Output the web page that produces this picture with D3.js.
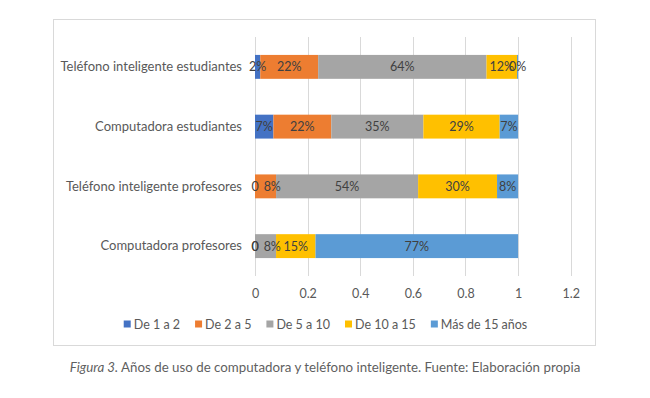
<!DOCTYPE html>
<html>
<head>
<meta charset="utf-8">
<script src="https://cdn.jsdelivr.net/npm/d3@7"></script>
<style>
  html, body { margin: 0; padding: 0; background: #fff; }
  svg { display: block; }
</style>
</head>
<body>
<svg id="chart" width="650" height="398"></svg>
<script>
// ---- data ----
const categories = [
  "Teléfono inteligente estudiantes",
  "Computadora estudiantes",
  "Teléfono inteligente profesores",
  "Computadora profesores"
];
const seriesNames = ["De 1 a 2", "De 2 a 5", "De 5 a 10", "De 10 a 15", "Más de 15 años"];
const de1a2    = [0.02, 0.07, 0,    0];
const de2a5    = [0.22, 0.22, 0.08, 0];
const de5a10   = [0.64, 0.35, 0.54, 0.08];
const de10a15  = [0.116, 0.29, 0.30, 0.15];
const mas15    = [0.004, 0.07, 0.08, 0.77];
const xTicks   = [0, 0.2, 0.4, 0.6, 0.8, 1, 1.2];
const colors   = ["#4472C4", "#ED7D31", "#A5A5A5", "#FFC000", "#5B9BD5"];
const caption  = { italic: "Figura 3.", rest: " Años de uso de computadora y teléfono inteligente. Fuente: Elaboración propia" };

const seriesValues = [de1a2, de2a5, de5a10, de10a15, mas15];
const rows = categories.map((c, i) => {
  const r = { cat: c };
  seriesNames.forEach((s, j) => r[s] = seriesValues[j][i]);
  return r;
});

const svg = d3.select("#chart");
const font = "Lato, 'Open Sans', sans-serif";

// chart frame
svg.append("rect").attr("x", 53.5).attr("y", 19.5).attr("width", 542).attr("height", 326)
  .attr("fill", "#fff").attr("stroke", "#D9D9D9").attr("stroke-width", 1);

const plot = { left: 255, right: 570.7, top: 37, bottom: 276 };
const x = d3.scaleLinear().domain([0, 1.2]).range([plot.left, plot.right]);
const y = d3.scaleBand().domain(categories).range([plot.top, plot.bottom]).paddingInner(0.6).paddingOuter(0.3);

// gridlines
svg.append("g").selectAll("line").data(xTicks).join("line")
  .attr("x1", d => Math.round(x(d)) + 0.5).attr("x2", d => Math.round(x(d)) + 0.5)
  .attr("y1", plot.top).attr("y2", plot.bottom)
  .attr("stroke", "#D9D9D9").attr("stroke-width", 1);

// x axis tick labels
const xAxis = d3.axisBottom(x).tickValues(xTicks).tickSize(0).tickPadding(0)
  .tickFormat(d => d3.format("")(d));
const gx = svg.append("g").attr("transform", `translate(0,${plot.bottom + 17})`).call(xAxis);
gx.select(".domain").remove();
gx.selectAll("text").attr("font-family", font).attr("font-size", 12.5).attr("fill", "#595959")
  .attr("dy", null).attr("dominant-baseline", "central");

// y axis labels
const yAxis = d3.axisLeft(y).tickSize(0).tickPadding(13);
const gy = svg.append("g").attr("transform", `translate(${plot.left},0)`).call(yAxis);
gy.select(".domain").remove();
gy.selectAll("text").attr("font-family", font).attr("font-size", 13).attr("fill", "#595959");

// stacked bars
const stack = d3.stack().keys(seriesNames);
const stacked = stack(rows);

const groups = svg.append("g").selectAll("g").data(stacked).join("g")
  .attr("fill", (d, i) => colors[i]);
groups.selectAll("rect").data(d => d).join("rect")
  .attr("x", d => x(d[0]))
  .attr("y", d => y(d.data.cat))
  .attr("width", d => x(d[1]) - x(d[0]))
  .attr("height", y.bandwidth());

// data labels (a label that follows a zero label is nudged right, as in the reference)
const fmt = v => v === 0 ? "0" : d3.format(".0%")(v);
const labelG = svg.append("g");
categories.forEach((cat, ci) => {
  let prev = null;
  stacked.forEach(s => {
    const d = s[ci];
    const v = seriesValues[s.index][ci];
    const t = labelG.append("text")
      .attr("x", (x(d[0]) + x(d[1])) / 2)
      .attr("y", y(cat) + y.bandwidth() / 2)
      .attr("text-anchor", "middle")
      .attr("dominant-baseline", "central")
      .attr("font-family", font).attr("font-size", 12.5)
      .attr("fill", "#404040")
      .text(fmt(v));
    const w = t.node().getComputedTextLength();
    let cxl = (x(d[0]) + x(d[1])) / 2;
    if (prev && prev.zero && v !== 0 && cxl - w / 2 < prev.right + 5) {
      cxl = prev.right + 5 + w / 2;
      t.attr("x", cxl);
    }
    prev = { zero: v === 0, right: cxl + w / 2 };
  });
});

// legend
const legendY = 324;
const legend = svg.append("g");
const items = seriesNames.map((n, i) => {
  const g = legend.append("g");
  g.append("rect").attr("x", 0).attr("y", legendY - 3.5).attr("width", 7).attr("height", 7).attr("fill", colors[i]);
  const t = g.append("text").attr("x", 10).attr("y", legendY).attr("dominant-baseline", "central")
    .attr("font-family", font).attr("font-size", 12.5).attr("fill", "#595959").text(n);
  return { g, w: 10 + t.node().getComputedTextLength() };
});
const gap = 15;
const totalW = d3.sum(items, d => d.w) + gap * (items.length - 1);
let cx = 325.5 - totalW / 2;
items.forEach(it => { it.g.attr("transform", `translate(${cx},0)`); cx += it.w + gap; });

// caption
const cap = svg.append("text").attr("x", 325).attr("y", 372).attr("text-anchor", "middle")
  .attr("font-family", font).attr("font-size", 13.3).attr("fill", "#5f5f5f");
cap.append("tspan").attr("font-style", "italic").text(caption.italic);
cap.append("tspan").text(caption.rest);
</script>
</body>
</html>
